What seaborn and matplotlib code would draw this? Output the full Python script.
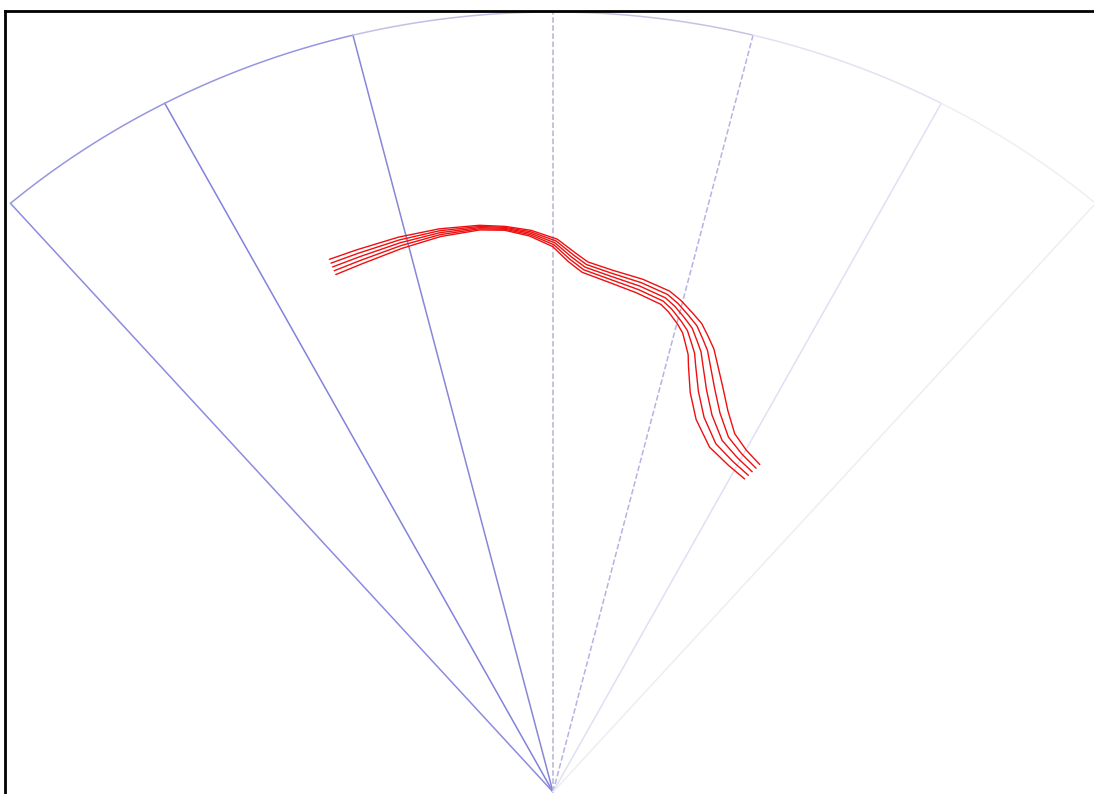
import numpy as np
import pandas as pd
import matplotlib
matplotlib.use("Agg")
import matplotlib.pyplot as plt
import seaborn as sns

# sector layout (degrees from north) and max range in km
SPOKE_AZ = [-41, -28, -14, 0, 14, 28, 41]
SPOKE_COLORS = ["#8c8ce1", "#8282dc", "#8787d7", "#b4b4d7", "#b4b4e4", "#e0e0f4", "#eeeef2"]
SPOKE_STYLES = ["-", "-", "-", "--", "--", "-", "-"]
ARC_COLORS = ["#9696e1", "#9696e1", "#c0c0e6", "#c4c4e0", "#e2e2f2", "#efeff3"]
MAX_RANGE = 100.0

# centre of the red track bundle: azimuth (deg), range (km), bundle width (km)
TRACK_AZ = [-21.6, -18.8, -14.7, -10.8, -7.0, -4.6, -2.2, 0.2, 1.9, 3.3, 6.0,
            9.2, 12.1, 13.3, 14.7, 15.8, 16.7, 17.6, 18.3, 19.8, 21.7, 24.4, 27.5, 30.4]
TRACK_RANGE = [72.4, 72.5, 72.8, 73.0, 72.9, 72.5, 71.7, 70.4, 68.6, 67.4, 66.5,
               65.7, 64.8, 64.0, 62.8, 61.8, 60.5, 59.2, 57.7, 54.8, 52.0, 49.5, 48.3, 47.6]
TRACK_WIDTH = [2.1, 1.9, 1.5, 1.0, 0.6, 0.5, 0.75, 1.1, 1.4, 1.5, 1.6,
               1.9, 2.0, 2.1, 2.3, 2.6, 2.9, 3.2, 3.5, 4.0, 4.0, 3.5, 2.9, 2.6]
N_TRACKS = 5


def polar_xy(az_deg, rng):
    a = np.radians(np.asarray(az_deg, dtype=float))
    r = np.asarray(rng, dtype=float)
    return r * np.sin(a), r * np.cos(a)


sns.set_style("white")
fig = plt.figure(figsize=(10.94, 7.94), dpi=100)
ax = fig.add_axes([5 / 1094, 0, 1089 / 1094, 783 / 794])

# spokes
for az, col, ls in zip(SPOKE_AZ, SPOKE_COLORS, SPOKE_STYLES):
    x, y = polar_xy([az, az], [0, MAX_RANGE])
    ax.plot(x, y, color=col, lw=1.1, ls=ls, zorder=1)

# outer arc, one segment per sector slice
for i, col in enumerate(ARC_COLORS):
    az = np.linspace(SPOKE_AZ[i], SPOKE_AZ[i + 1], 40)
    x, y = polar_xy(az, np.full_like(az, MAX_RANGE))
    ax.plot(x, y, color=col, lw=1.1, zorder=1)

# red tracks: offset copies of the centre line, normal to its direction
cx, cy = polar_xy(TRACK_AZ, TRACK_RANGE)
tx, ty = np.gradient(cx), np.gradient(cy)
norm = np.hypot(tx, ty)
nx, ny = -ty / norm, tx / norm
spacing = np.asarray(TRACK_WIDTH) / (N_TRACKS - 1)
rows = []
for k in range(N_TRACKS):
    off = (k - (N_TRACKS - 1) / 2) * spacing
    for j in range(len(cx)):
        rows.append({"track": k, "order": j, "x": cx[j] + off[j] * nx[j], "y": cy[j] + off[j] * ny[j]})
tracks = pd.DataFrame(rows)

for k, grp in tracks.groupby("track"):
    sns.lineplot(data=grp, x="x", y="y", sort=False, estimator=None,
                 color="#ee1010", lw=1.0, ax=ax, zorder=3,
                 solid_joinstyle="round", solid_capstyle="round")

ax.set_xlim((5 - 553) / 8.27, (1094 - 553) / 8.27)
ax.set_ylim(-0.26, 100.13)
ax.set_xticks([])
ax.set_yticks([])
ax.set_xlabel("")
ax.set_ylabel("")
for side in ["left", "top"]:
    ax.spines[side].set_color("black")
    ax.spines[side].set_linewidth(2)
ax.spines["bottom"].set_visible(False)
ax.spines["right"].set_visible(False)

fig.savefig("out.png", dpi=100)
